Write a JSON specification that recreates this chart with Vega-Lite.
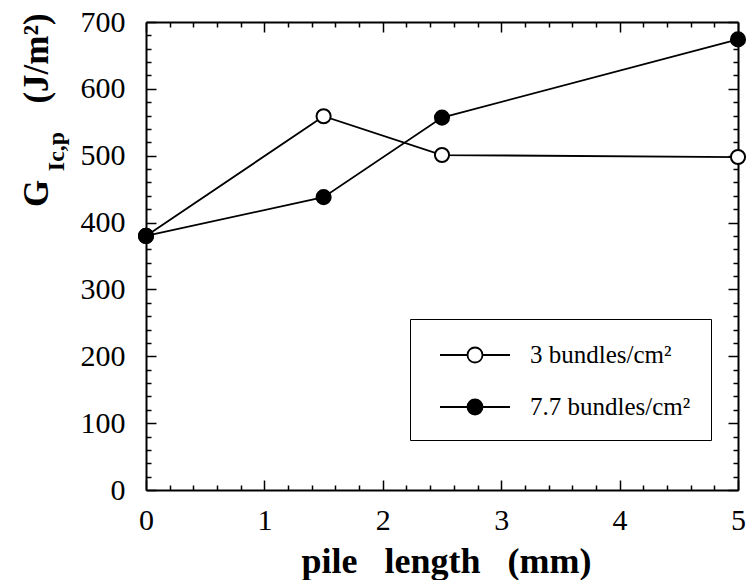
{
  "$schema": "https://vega.github.io/schema/vega-lite/v6.json",
  "width": 592,
  "height": 468,
  "autosize": "none",
  "padding": {"left": 146, "top": 22, "right": 12, "bottom": 90},
  "background": "white",
  "config": {
    "view": {"stroke": null},
    "axis": {
      "labelFont": "Liberation Serif",
      "titleFont": "Liberation Serif",
      "labelColor": "black",
      "titleColor": "black",
      "domainColor": "black",
      "tickColor": "black",
      "grid": false,
      "labelOverlap": false,
      "labelFlush": false,
      "labelBound": false
    }
  },
  "data": {
    "values": [
      {"x": 0, "y": 380, "s": "3 bundles/cm²"},
      {"x": 1.5, "y": 559, "s": "3 bundles/cm²"},
      {"x": 2.5, "y": 501, "s": "3 bundles/cm²"},
      {"x": 5, "y": 498, "s": "3 bundles/cm²"},
      {"x": 0, "y": 380, "s": "7.7 bundles/cm²"},
      {"x": 1.5, "y": 438, "s": "7.7 bundles/cm²"},
      {"x": 2.5, "y": 557, "s": "7.7 bundles/cm²"},
      {"x": 5, "y": 674, "s": "7.7 bundles/cm²"}
    ]
  },
  "layer": [
    {
      "mark": {"type": "line", "color": "black", "strokeWidth": 1.8},
      "encoding": {
        "x": {
          "field": "x", "type": "quantitative", "scale": {"domain": [0, 5], "nice": false},
          "axis": {
            "orient": "bottom", "values": [0, 1, 2, 3, 4, 5], "format": "d",
            "tickSize": -10, "tickWidth": 1.5, "domainWidth": 2,
            "labelFontSize": 30, "labelPadding": 25,
            "title": "pile\u00a0\u00a0\u00a0length\u00a0\u00a0\u00a0(mm)", "titleFontSize": 36, "titleFontWeight": "bold",
            "titleX": 300, "titleY": 82, "titleAlign": "center", "titleBaseline": "alphabetic"
          }
        },
        "y": {
          "field": "y", "type": "quantitative", "scale": {"domain": [0, 700], "nice": false},
          "axis": {
            "orient": "left", "values": [0, 100, 200, 300, 400, 500, 600, 700], "format": "d",
            "tickSize": -10, "tickWidth": 1.5, "domainWidth": 2,
            "labelFontSize": 30, "labelPadding": 31,
            "title": "(J/m²)", "titleFontSize": 35, "titleFontWeight": "bold",
            "titleAngle": -90, "titleX": -99, "titleY": 36, "titleAlign": "center", "titleBaseline": "alphabetic"
          }
        },
        "detail": {"field": "s"}
      }
    },
    {
      "mark": {"type": "point", "shape": "circle", "filled": true, "size": 200, "stroke": "black", "strokeWidth": 2, "opacity": 1},
      "encoding": {
        "x": {"field": "x", "type": "quantitative", "axis": null},
        "y": {"field": "y", "type": "quantitative", "axis": null},
        "fill": {
          "field": "s", "type": "nominal",
          "scale": {"domain": ["3 bundles/cm²", "7.7 bundles/cm²"], "range": ["white", "black"]},
          "legend": {
            "orient": "none", "legendX": 264, "legendY": 297, "title": null,
            "symbolType": "M-2.333,0H-0.5M0.5,0H2.333M0.5,0A0.5,0.5,0,1,1,-0.5,0A0.5,0.5,0,1,1,0.5,0Z",
            "symbolSize": 900, "symbolStrokeColor": "black", "symbolStrokeWidth": 1.8,
            "symbolOffset": 29, "labelOffset": 39, "labelLimit": 400,
            "labelFont": "Liberation Serif", "labelFontSize": 25, "labelColor": "black",
            "strokeColor": "black", "padding": 20, "rowPadding": 23
          }
        }
      }
    },
    {
      "mark": {"type": "point", "opacity": 0},
      "encoding": {
        "x": {
          "field": "x", "type": "quantitative",
          "axis": {
            "orient": "top", "values": [0, 1, 2, 3, 4, 5], "labels": false,
            "tickSize": -10, "tickWidth": 1.5, "domainWidth": 2,
            "title": "G", "titleFontSize": 35, "titleFontWeight": "bold",
            "titleAngle": -90, "titleX": -99, "titleY": 171, "titleAlign": "center", "titleBaseline": "alphabetic"
          }
        },
        "y": {
          "field": "y", "type": "quantitative",
          "axis": {
            "orient": "right", "values": [0, 100, 200, 300, 400, 500, 600, 700], "labels": false,
            "tickSize": -10, "tickWidth": 1.5, "domainWidth": 2,
            "title": "Ic,p", "titleFontSize": 24, "titleFontWeight": "bold",
            "titleAngle": -90, "titleX": -675, "titleY": 129, "titleAlign": "center", "titleBaseline": "alphabetic"
          }
        }
      }
    },
    {
      "mark": {"type": "point", "opacity": 0},
      "encoding": {
        "x": {
          "field": "x", "type": "quantitative",
          "axis": {
            "orient": "bottom", "labels": false, "domain": false, "title": null,
            "values": [0.2, 0.4, 0.6, 0.8, 1.2, 1.4, 1.6, 1.8, 2.2, 2.4, 2.6, 2.8, 3.2, 3.4, 3.6, 3.8, 4.2, 4.4, 4.6, 4.8],
            "tickSize": -5, "tickWidth": 1.5
          }
        },
        "y": {
          "field": "y", "type": "quantitative",
          "axis": {
            "orient": "left", "labels": false, "domain": false, "title": null,
            "values": [20, 40, 60, 80, 120, 140, 160, 180, 220, 240, 260, 280, 320, 340, 360, 380, 420, 440, 460, 480, 520, 540, 560, 580, 620, 640, 660, 680],
            "tickSize": -5, "tickWidth": 1.5
          }
        }
      }
    },
    {
      "mark": {"type": "point", "opacity": 0},
      "encoding": {
        "x": {
          "field": "x", "type": "quantitative",
          "axis": {
            "orient": "top", "labels": false, "domain": false, "title": null,
            "values": [0.2, 0.4, 0.6, 0.8, 1.2, 1.4, 1.6, 1.8, 2.2, 2.4, 2.6, 2.8, 3.2, 3.4, 3.6, 3.8, 4.2, 4.4, 4.6, 4.8],
            "tickSize": -5, "tickWidth": 1.5
          }
        },
        "y": {
          "field": "y", "type": "quantitative",
          "axis": {
            "orient": "right", "labels": false, "domain": false, "title": null,
            "values": [20, 40, 60, 80, 120, 140, 160, 180, 220, 240, 260, 280, 320, 340, 360, 380, 420, 440, 460, 480, 520, 540, 560, 580, 620, 640, 660, 680],
            "tickSize": -5, "tickWidth": 1.5
          }
        }
      }
    }
  ],
  "resolve": {"axis": {"x": "independent", "y": "independent"}}
}
